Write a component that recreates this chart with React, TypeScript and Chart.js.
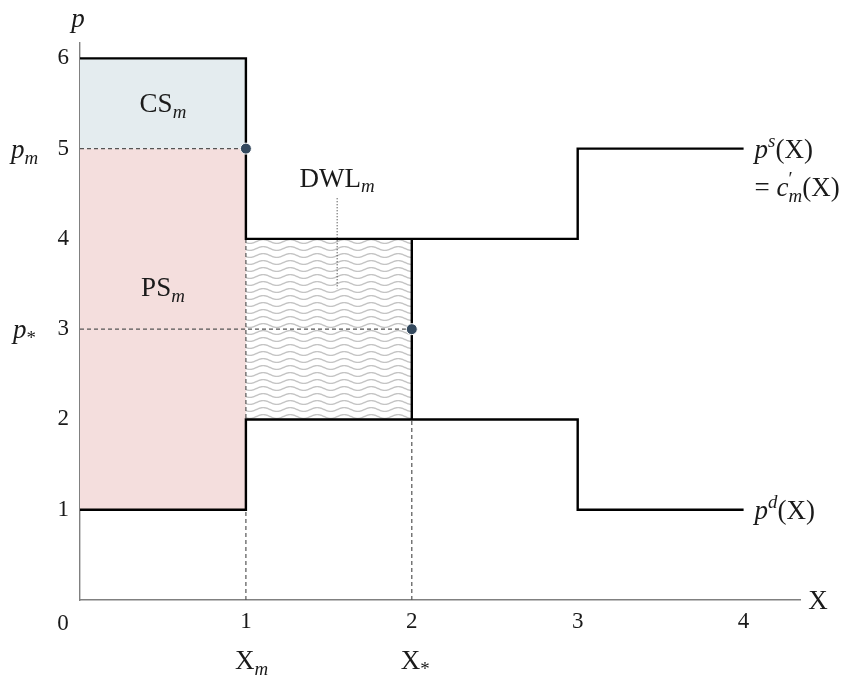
import React, { useEffect, useRef } from 'react';
import { Chart, registerables } from 'chart.js';

Chart.register(...registerables);

// ---- data ----
const supplyX = [0, 1, 3, 4];
const supplyY = [6, 4, 5, 5];
const demandX = [0, 1, 3, 4];
const demandY = [1, 2, 1, 1];
const xTicks = [1, 2, 3, 4];
const yTicks = [1, 2, 3, 4, 5, 6];
const monopoly = { x: 1, p: 5 };
const efficient = { x: 2, p: 3 };
const csBand = { x0: 0, x1: 1, lo: 5, hi: 6 };
const psBand = { x0: 0, x1: 1, lo: 1, hi: 5 };
const dwlBand = { x0: 1, x1: 2, lo: 2, hi: 4 };
const dwlPointer = { x: 1.55, top: 4.45, bottom: 3.45 };

const FAMILY = '"Liberation Serif", "DejaVu Serif", serif';
const TEXT = '#1a1a1a';
const TICK_SIZE = 23;
const LABEL_SIZE = 27;

type Part = { t: string; it?: boolean; pos?: 'sub' | 'sup'; noAdvance?: boolean };

function partFont(p: Part, size: number) {
  const s = p.pos ? size * 0.7 : size;
  return `${p.it ? 'italic ' : ''}${s}px ${FAMILY}`;
}

function drawRich(ctx: CanvasRenderingContext2D, x: number, y: number, parts: Part[], size: number, align: 'left' | 'center' = 'left') {
  ctx.save();
  ctx.textBaseline = 'alphabetic';
  ctx.textAlign = 'left';
  ctx.fillStyle = TEXT;
  let total = 0;
  const widths: number[] = [];
  for (const p of parts) {
    ctx.font = partFont(p, size);
    const w = ctx.measureText(p.t).width;
    widths.push(w);
    if (!p.noAdvance) total += w;
  }
  let cx = align === 'center' ? x - total / 2 : x;
  parts.forEach((p, i) => {
    ctx.font = partFont(p, size);
    let dy = 0;
    if (p.pos === 'sub') dy = size * 0.22;
    if (p.pos === 'sup') dy = -size * 0.38;
    ctx.fillText(p.t, cx, y + dy);
    if (!p.noAdvance) cx += widths[i];
  });
  ctx.restore();
}

function makeWavePattern(): CanvasPattern | string {
  const w = 27, h = 7;
  const c = document.createElement('canvas');
  c.width = w; c.height = h;
  const g = c.getContext('2d');
  if (!g) return '#ddd';
  g.strokeStyle = '#c4c4c4';
  g.lineWidth = 1.4;
  for (const off of [-h, 0, h]) {
    g.beginPath();
    for (let i = -1; i <= w + 1; i += 0.5) {
      const yy = h / 2 + off + 1.9 * Math.sin((2 * Math.PI * i) / w);
      if (i === -1) g.moveTo(i, yy); else g.lineTo(i, yy);
    }
    g.stroke();
  }
  const p = g.createPattern(c, 'repeat');
  return p || '#ddd';
}

const textPlugin = {
  id: 'econTexts',
  afterDraw(chart: any) {
    const ctx: CanvasRenderingContext2D = chart.ctx;
    const xs = chart.scales.x, ys = chart.scales.y;
    const px = (v: number) => xs.getPixelForValue(v);
    const py = (v: number) => ys.getPixelForValue(v);
    const L = LABEL_SIZE;
    const c = 9; // cap-centre offset
    // area labels
    drawRich(ctx, px((csBand.x0 + csBand.x1) / 2), py((csBand.lo + csBand.hi) / 2) + c, [{ t: 'CS' }, { t: 'm', it: true, pos: 'sub' }], L, 'center');
    drawRich(ctx, px((psBand.x0 + psBand.x1) / 2), py(3.47) + c, [{ t: 'PS' }, { t: 'm', it: true, pos: 'sub' }], L, 'center');
    drawRich(ctx, px(dwlPointer.x), py(4.68) + c, [{ t: 'DWL' }, { t: 'm', it: true, pos: 'sub' }], L, 'center');
    // curve labels
    const lx = px(4) + 11;
    drawRich(ctx, lx, py(supplyY[supplyY.length - 1]) + c, [{ t: 'p', it: true }, { t: 's', it: true, pos: 'sup' }, { t: '(X)' }], L);
    drawRich(ctx, lx, py(supplyY[supplyY.length - 1]) + c + 38, [{ t: '= ' }, { t: 'c', it: true }, { t: '\u2032', pos: 'sup', noAdvance: true }, { t: 'm', it: true, pos: 'sub' }, { t: '(X)' }], L);
    drawRich(ctx, lx, py(demandY[demandY.length - 1]) + c, [{ t: 'p', it: true }, { t: 'd', it: true, pos: 'sup' }, { t: '(X)' }], L);
    // axis names
    drawRich(ctx, px(0) - 2, chart.chartArea.top - 16, [{ t: 'p', it: true }], L, 'center');
    drawRich(ctx, chart.chartArea.right + 18, py(0) + c, [{ t: 'X' }], L, 'center');
    // special ticks
    drawRich(ctx, px(0) - 17, py(0) + 30, [{ t: '0' }], TICK_SIZE, 'center');
    drawRich(ctx, px(monopoly.x) - 11, py(0) + 69, [{ t: 'X' }, { t: 'm', it: true, pos: 'sub' }], L);
    drawRich(ctx, px(efficient.x) - 11, py(0) + 69, [{ t: 'X' }, { t: '*', pos: 'sub' }], L);
    drawRich(ctx, 11, py(monopoly.p) + c, [{ t: 'p', it: true }, { t: 'm', it: true, pos: 'sub' }], L);
    drawRich(ctx, 13, py(efficient.p) + c, [{ t: 'p', it: true }, { t: '*', pos: 'sub' }], L);
  },
};

const pts = (xs: number[], ys: number[]) => xs.map((x, i) => ({ x, y: ys[i] }));

export default function App() {
  const ref = useRef<HTMLCanvasElement | null>(null);
  useEffect(() => {
    document.body.style.margin = '0';
    const canvas = ref.current;
    if (!canvas) return;
    const wave = makeWavePattern();
    const dash = [4, 3];
    const dashColor = '#555';
    const base = { pointRadius: 0, pointHoverRadius: 0, tension: 0 };
    const chart = new Chart(canvas, {
      type: 'line',
      data: {
        datasets: [
          { ...base, label: 'CS', data: [{ x: csBand.x0, y: csBand.hi }, { x: csBand.x1, y: csBand.hi }], fill: { value: csBand.lo }, backgroundColor: '#e4ecef', borderWidth: 0, order: 20 },
          { ...base, label: 'PS', data: [{ x: psBand.x0, y: psBand.hi }, { x: psBand.x1, y: psBand.hi }], fill: { value: psBand.lo }, backgroundColor: '#f4dedd', borderWidth: 0, order: 20 },
          { ...base, label: 'DWL', data: [{ x: dwlBand.x0, y: dwlBand.hi }, { x: dwlBand.x1, y: dwlBand.hi }], fill: { value: dwlBand.lo }, backgroundColor: wave as any, borderWidth: 0, order: 20 },
          { ...base, label: 'dash1', data: [{ x: monopoly.x, y: 0 }, { x: monopoly.x, y: monopoly.p }], borderColor: dashColor, borderWidth: 1.2, borderDash: dash, fill: false, order: 15 },
          { ...base, label: 'dash2', data: [{ x: 0, y: monopoly.p }, { x: monopoly.x, y: monopoly.p }], borderColor: dashColor, borderWidth: 1.2, borderDash: dash, fill: false, order: 15 },
          { ...base, label: 'dash3', data: [{ x: efficient.x, y: 0 }, { x: efficient.x, y: efficient.p }], borderColor: dashColor, borderWidth: 1.2, borderDash: dash, fill: false, order: 15 },
          { ...base, label: 'dash4', data: [{ x: 0, y: efficient.p }, { x: efficient.x, y: efficient.p }], borderColor: dashColor, borderWidth: 1.2, borderDash: dash, fill: false, order: 15 },
          { ...base, label: 'pointer', data: [{ x: dwlPointer.x, y: dwlPointer.top }, { x: dwlPointer.x, y: dwlPointer.bottom }], borderColor: '#222', borderWidth: 1, borderDash: [1, 2], fill: false, order: 15 },
          { ...base, label: 'supply', data: pts(supplyX, supplyY), stepped: true, borderColor: '#000', borderWidth: 2.4, fill: false, borderJoinStyle: 'miter', order: 10 },
          { ...base, label: 'demand', data: pts(demandX, demandY), stepped: true, borderColor: '#000', borderWidth: 2.4, fill: false, borderJoinStyle: 'miter', order: 10 },
          { ...base, label: 'effline', data: [{ x: efficient.x, y: dwlBand.lo }, { x: efficient.x, y: dwlBand.hi }], borderColor: '#000', borderWidth: 2.4, fill: false, order: 10 },
          { label: 'dots', data: [{ x: monopoly.x, y: monopoly.p }, { x: efficient.x, y: efficient.p }], showLine: false, pointRadius: 5.5, pointHoverRadius: 5.5, pointBackgroundColor: '#34495e', pointBorderColor: '#ffffff', pointBorderWidth: 1, order: 0 } as any,
        ],
      },
      options: {
        animation: false,
        responsive: false,
        devicePixelRatio: 1,
        events: [],
        layout: { padding: { top: 43, right: 58, left: 0, bottom: 0 } },
        plugins: { legend: { display: false }, tooltip: { enabled: false } },
        scales: {
          x: {
            type: 'linear', min: 0, max: 4.34,
            grid: { display: false, drawTicks: false },
            border: { display: true, color: '#808080', width: 1.4 },
            ticks: { autoSkip: false, padding: 8, color: TEXT, font: { family: FAMILY, size: TICK_SIZE }, callback: (v: any) => String(v) },
            afterBuildTicks: (axis: any) => { axis.ticks = xTicks.map((v) => ({ value: v })); },
            afterFit: (axis: any) => { axis.height = 79; },
          },
          y: {
            type: 'linear', min: 0, max: 6.17,
            grid: { display: false, drawTicks: false },
            border: { display: true, color: '#808080', width: 1.4 },
            ticks: { autoSkip: false, padding: 11, color: TEXT, font: { family: FAMILY, size: TICK_SIZE }, callback: (v: any) => String(v) },
            afterBuildTicks: (axis: any) => { axis.ticks = yTicks.map((v) => ({ value: v })); },
            afterFit: (axis: any) => { axis.width = 80; },
          },
        },
      } as any,
      plugins: [textPlugin],
    });
    return () => chart.destroy();
  }, []);
  return (
    <div style={{ width: 858, height: 679, background: '#fff' }}>
      <canvas ref={ref} width={858} height={679} style={{ display: 'block' }} />
    </div>
  );
}
